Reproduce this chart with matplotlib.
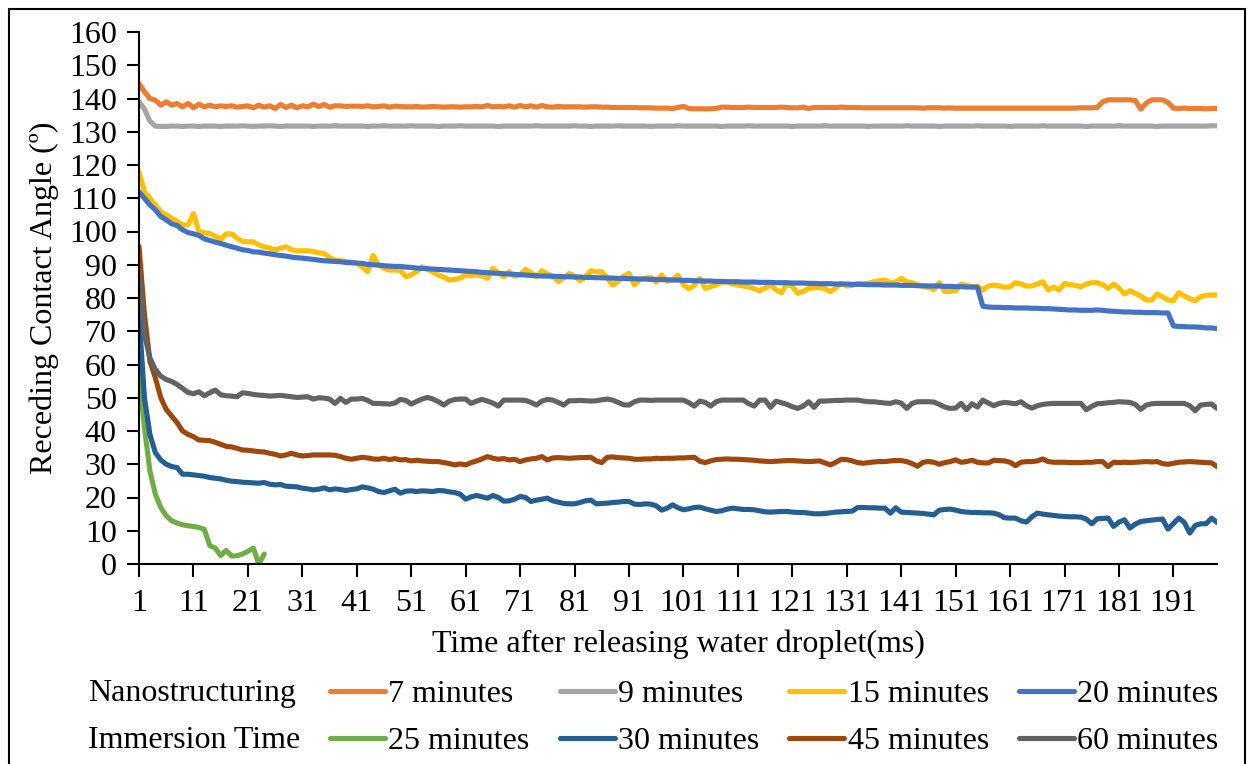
import matplotlib
matplotlib.use('Agg')
import matplotlib.pyplot as plt
import numpy as np

plt.rcParams['font.family'] = ['Liberation Serif', 'DejaVu Serif']

min7 = [
    144.5, 142.0, 140.0, 139.5, 138.0, 139.0, 138.0, 138.5, 137.5, 138.5,
    137.2, 138.3, 137.5, 138.0, 137.5, 137.8, 137.6, 137.8, 137.4, 137.6,
    137.8, 137.2, 138.0, 137.4, 137.8, 137.0, 138.2, 137.3, 138.0, 137.2,
    137.8, 137.5, 138.3, 137.6, 138.2, 137.4, 137.8, 137.8, 137.6, 137.7,
    137.7, 137.6, 137.8, 137.5, 137.6, 137.8, 137.4, 137.7, 137.6, 137.5,
    137.5, 137.6, 137.4, 137.5, 137.6, 137.5, 137.4, 137.5, 137.5, 137.4,
    137.5, 137.5, 137.6, 137.5, 137.9, 137.5, 137.6, 137.5, 137.8, 137.4,
    137.9, 137.5, 137.8, 137.4, 137.9, 137.5, 137.4, 137.6, 137.5, 137.5,
    137.5, 137.5, 137.4, 137.5, 137.5, 137.4, 137.4, 137.3, 137.3, 137.3,
    137.3, 137.3, 137.2, 137.2, 137.2, 137.1, 137.1, 137.1, 137.0, 137.3,
    137.6, 137.0, 136.9, 136.9, 136.9, 136.9, 137.0, 137.4, 137.4, 137.3,
    137.3, 137.3, 137.4, 137.3, 137.3, 137.3, 137.3, 137.3, 137.4, 137.3,
    137.2, 137.2, 137.4, 137.0, 137.3, 137.3, 137.3, 137.3, 137.3, 137.4,
    137.3, 137.3, 137.3, 137.2, 137.2, 137.2, 137.2, 137.2, 137.2, 137.2,
    137.2, 137.2, 137.2, 137.2, 137.1, 137.2, 137.2, 137.2, 137.1, 137.2,
    137.1, 137.1, 137.1, 137.1, 137.1, 137.1, 137.1, 137.1, 137.1, 137.1,
    137.1, 137.1, 137.1, 137.1, 137.1, 137.1, 137.1, 137.1, 137.1, 137.1,
    137.1, 137.1, 137.1, 137.2, 137.2, 137.2, 137.3, 139.0, 139.6, 139.6,
    139.6, 139.6, 139.6, 139.4, 136.8, 138.6, 139.6, 139.6, 139.6, 138.8,
    137.1, 137.0, 137.1, 137.0, 137.0, 137.0, 136.9, 137.0, 137.0]

min9 = [
    139.0, 136.8, 133.2, 131.7, 131.6, 131.6, 131.7, 131.7, 131.6, 131.7,
    131.7, 131.6, 131.7, 131.7, 131.7, 131.6, 131.7, 131.7, 131.7, 131.8,
    131.7, 131.6, 131.7, 131.7, 131.8, 131.7, 131.6, 131.7, 131.7, 131.7,
    131.7, 131.7, 131.6, 131.7, 131.7, 131.7, 131.8, 131.7, 131.7, 131.7,
    131.7, 131.7, 131.6, 131.7, 131.7, 131.8, 131.7, 131.7, 131.7, 131.7,
    131.8, 131.7, 131.7, 131.7, 131.7, 131.6, 131.7, 131.7, 131.7, 131.8,
    131.7, 131.7, 131.7, 131.7, 131.7, 131.7, 131.6, 131.7, 131.7, 131.7,
    131.7, 131.7, 131.7, 131.8, 131.7, 131.7, 131.7, 131.7, 131.7, 131.7,
    131.8, 131.7, 131.7, 131.6, 131.7, 131.7, 131.7, 131.7, 131.8, 131.7,
    131.7, 131.7, 131.7, 131.7, 131.6, 131.7, 131.7, 131.7, 131.7, 131.8,
    131.7, 131.7, 131.7, 131.7, 131.7, 131.7, 131.7, 131.6, 131.7, 131.7,
    131.7, 131.7, 131.8, 131.7, 131.7, 131.7, 131.7, 131.7, 131.7, 131.7,
    131.6, 131.7, 131.7, 131.7, 131.7, 131.7, 131.8, 131.7, 131.7, 131.7,
    131.7, 131.7, 131.7, 131.7, 131.6, 131.7, 131.7, 131.7, 131.7, 131.7,
    131.7, 131.8, 131.7, 131.7, 131.7, 131.7, 131.7, 131.6, 131.7, 131.7,
    131.7, 131.7, 131.7, 131.7, 131.8, 131.7, 131.7, 131.7, 131.7, 131.7,
    131.6, 131.7, 131.7, 131.7, 131.7, 131.7, 131.8, 131.7, 131.7, 131.7,
    131.7, 131.7, 131.7, 131.7, 131.6, 131.7, 131.7, 131.7, 131.7, 131.7,
    131.8, 131.7, 131.7, 131.7, 131.7, 131.7, 131.7, 131.6, 131.7, 131.7,
    131.7, 131.7, 131.7, 131.7, 131.7, 131.7, 131.7, 131.8, 131.8]

min15 = [
    117.9, 112.0, 110.0, 108.0, 106.0, 105.0, 104.0, 103.0, 102.0, 101.9,
    105.4, 100.0, 99.6, 99.4, 98.6, 97.6, 99.3, 99.3, 98.0, 97.0,
    96.9, 96.9, 96.0, 95.4, 95.0, 94.5, 95.0, 95.4, 94.5, 94.2,
    94.2, 94.2, 94.0, 93.6, 93.4, 92.2, 91.4, 91.2, 91.0, 90.8,
    90.5, 89.4, 87.9, 92.8, 89.9, 89.0, 88.4, 88.4, 88.4, 86.4,
    87.0, 87.9, 89.4, 88.6, 87.8, 86.9, 86.3, 85.4, 85.6, 86.0,
    86.9, 86.7, 86.9, 86.7, 85.9, 88.9, 87.6, 86.4, 87.9, 86.5,
    87.0, 88.6, 87.6, 86.4, 88.2, 87.2, 86.6, 84.9, 86.0, 87.4,
    86.6, 85.2, 86.2, 88.2, 87.9, 87.9, 86.0, 83.9, 85.0, 86.6,
    87.4, 83.9, 85.6, 86.0, 86.2, 84.8, 86.9, 85.0, 85.5, 86.9,
    84.0, 82.8, 83.8, 85.9, 82.9, 83.4, 84.0, 84.7, 84.9, 84.2,
    84.0, 83.6, 83.4, 82.8, 82.2, 83.0, 83.9, 82.5, 81.6, 84.4,
    83.5, 81.4, 82.0, 82.9, 83.0, 83.2, 82.8, 81.9, 83.0, 84.4,
    83.6, 83.8, 84.4, 84.2, 84.5, 84.9, 85.2, 85.4, 84.6, 84.8,
    85.9, 84.9, 84.6, 84.0, 83.4, 83.2, 82.6, 84.6, 81.9, 82.0,
    82.2, 84.2, 83.8, 83.4, 83.6, 82.4, 83.6, 83.9, 83.6, 83.2,
    83.4, 84.6, 84.2, 83.6, 83.6, 84.2, 84.9, 82.4, 83.3, 82.4,
    84.4, 84.0, 83.8, 83.4, 84.2, 84.6, 84.6, 84.0, 82.9, 84.2,
    83.0, 81.2, 82.2, 81.4, 80.6, 79.4, 79.4, 81.2, 80.4, 79.4,
    79.2, 81.6, 80.6, 79.8, 79.2, 80.4, 80.8, 80.9, 80.9]

min20 = [
    111.9, 110.0, 108.0, 106.5, 104.5, 103.5, 102.3, 101.8, 100.5, 99.7,
    99.3, 98.8, 97.8, 97.3, 96.8, 96.4, 95.9, 95.4, 95.0, 94.5,
    94.3, 93.9, 93.8, 93.5, 93.3, 93.0, 92.8, 92.6, 92.3, 92.1,
    92.0, 91.8, 91.6, 91.4, 91.2, 91.1, 91.0, 90.9, 90.7, 90.6,
    90.5, 90.4, 90.1, 90.0, 89.9, 89.7, 89.6, 89.5, 89.5, 89.3,
    89.2, 89.0, 88.9, 88.8, 88.7, 88.6, 88.5, 88.4, 88.3, 88.2,
    88.1, 88.0, 87.9, 87.7, 87.6, 87.5, 87.4, 87.3, 87.2, 87.1,
    87.0, 86.9, 86.8, 86.7, 86.6, 86.6, 86.5, 86.5, 86.4, 86.4,
    86.3, 86.3, 86.2, 86.2, 86.1, 86.1, 86.0, 86.0, 85.9, 85.9,
    85.8, 85.8, 85.7, 85.7, 85.6, 85.6, 85.5, 85.5, 85.4, 85.4,
    85.3, 85.3, 85.2, 85.2, 85.1, 85.1, 85.0, 85.0, 84.9, 84.9,
    84.9, 84.8, 84.8, 84.8, 84.7, 84.7, 84.7, 84.6, 84.6, 84.6,
    84.5, 84.5, 84.5, 84.4, 84.4, 84.3, 84.3, 84.3, 84.2, 84.2,
    84.2, 84.1, 84.1, 84.1, 84.0, 84.0, 84.0, 83.9, 83.9, 83.9,
    83.8, 83.8, 83.8, 83.7, 83.7, 83.6, 83.6, 83.6, 83.5, 83.5,
    83.4, 83.4, 83.3, 83.3, 83.2, 77.5, 77.3, 77.2, 77.2, 77.1,
    77.1, 77.0, 77.0, 77.0, 76.9, 76.9, 76.8, 76.8, 76.7, 76.6,
    76.5, 76.4, 76.4, 76.3, 76.3, 76.3, 76.4, 76.3, 76.1, 76.0,
    75.9, 75.8, 75.8, 75.7, 75.7, 75.6, 75.6, 75.6, 75.5, 75.5,
    71.6, 71.4, 71.4, 71.3, 71.3, 71.2, 71.0, 71.0, 70.8]

min25 = [
    57.5, 41.0, 28.0, 21.0, 17.0, 14.5, 13.0, 12.3, 11.8, 11.5,
    11.3, 11.0, 10.4, 5.5, 4.8, 2.5, 4.1, 2.4, 2.5, 3.0,
    3.8, 4.8, 0.0, 3.0]

min30 = [
    74.9, 50.0, 39.0, 33.5, 31.3, 30.0, 29.3, 29.0, 27.0, 27.0,
    26.8, 26.6, 26.4, 26.0, 25.8, 25.6, 25.2, 24.9, 24.8, 24.6,
    24.5, 24.4, 24.3, 24.5, 24.0, 23.8, 23.9, 23.4, 23.3, 23.2,
    22.8, 22.6, 22.3, 22.5, 22.9, 22.3, 22.6, 22.4, 22.1, 22.4,
    22.6, 23.2, 22.9, 22.5, 21.8, 21.5, 22.0, 22.5, 21.3, 21.9,
    22.0, 21.8, 22.0, 21.9, 21.8, 22.1, 22.0, 21.7, 21.5, 21.0,
    19.5, 20.2, 20.6, 20.2, 19.8, 20.6, 20.0, 18.9, 19.0, 19.5,
    20.3, 20.0, 18.8, 19.2, 19.5, 19.8, 19.0, 18.6, 18.2, 18.1,
    18.1, 18.5, 19.0, 19.2, 18.1, 18.2, 18.3, 18.5, 18.6, 18.8,
    18.8, 18.0, 17.9, 18.1, 18.0, 17.5, 16.2, 16.8, 17.8, 16.9,
    16.3, 16.6, 17.0, 17.1, 16.6, 16.2, 15.8, 16.0, 16.5, 16.8,
    16.6, 16.4, 16.4, 16.3, 16.0, 15.7, 15.6, 15.7, 15.8, 15.8,
    15.6, 15.5, 15.5, 15.3, 15.1, 15.1, 15.2, 15.4, 15.6, 15.7,
    15.8, 15.9, 17.0, 17.0, 16.9, 16.9, 16.8, 16.8, 15.3, 16.9,
    15.6, 15.5, 15.4, 15.3, 15.2, 15.0, 14.8, 16.2, 16.4, 16.5,
    16.2, 15.8, 15.6, 15.5, 15.5, 15.4, 15.4, 15.3, 14.8, 13.9,
    13.8, 13.8, 13.0, 12.6, 14.2, 15.3, 15.0, 14.8, 14.6, 14.4,
    14.3, 14.2, 14.2, 14.1, 13.5, 12.1, 13.6, 13.7, 13.8, 11.3,
    12.6, 13.3, 10.8, 12.0, 12.8, 13.0, 13.2, 13.4, 13.5, 10.5,
    12.2, 13.8, 12.5, 9.3, 11.6, 12.1, 12.1, 13.8, 12.5]

min45 = [
    95.5, 75.0, 61.0, 56.0, 50.0, 46.5, 44.5, 42.5, 40.0, 39.0,
    38.3, 37.3, 37.2, 37.1, 36.6, 36.0, 35.4, 35.2, 34.8, 34.3,
    34.2, 34.0, 33.8, 33.7, 33.3, 33.0, 32.5, 32.8, 33.3, 32.8,
    32.5, 32.6, 32.8, 32.8, 32.8, 32.8, 32.7, 32.3, 31.8, 31.5,
    31.8, 32.1, 31.9, 31.6, 31.5, 31.8, 31.4, 31.7, 31.3, 31.4,
    31.0, 31.2, 31.0, 30.9, 30.8, 30.8, 30.5, 30.2, 29.8, 30.1,
    29.8, 30.5, 31.0, 31.6, 32.3, 31.8, 31.5, 31.7, 31.3, 31.5,
    30.8, 31.3, 31.6, 31.8, 32.3, 31.3, 31.9, 32.0, 31.9, 31.8,
    31.9, 32.0, 32.0, 32.1, 31.0, 30.5, 32.1, 32.2, 32.0, 31.9,
    31.8, 31.5, 31.5, 31.6, 31.6, 31.8, 31.7, 31.8, 31.8, 31.9,
    31.9, 32.0, 32.1, 30.9, 30.5, 31.0, 31.4, 31.5, 31.6, 31.5,
    31.5, 31.4, 31.3, 31.2, 31.0, 30.9, 30.8, 30.9, 31.0, 31.1,
    31.1, 31.0, 30.9, 30.8, 30.9, 31.0, 30.4, 29.8, 30.6, 31.5,
    31.4, 31.0, 30.5, 30.3, 30.5, 30.7, 30.8, 30.8, 31.0, 31.1,
    31.1, 30.8, 30.2, 29.4, 30.6, 30.8, 30.6, 30.0, 30.5, 30.8,
    31.3, 30.6, 30.8, 31.2, 30.6, 30.4, 30.4, 31.2, 31.1, 31.0,
    30.6, 29.6, 30.6, 30.8, 30.8, 31.0, 31.6, 30.8, 30.6, 30.6,
    30.6, 30.5, 30.5, 30.5, 30.6, 30.6, 30.8, 30.8, 29.3, 30.6,
    30.5, 30.6, 30.5, 30.6, 30.7, 30.8, 30.7, 30.8, 30.2, 30.0,
    30.3, 30.6, 30.7, 30.8, 30.7, 30.6, 30.5, 30.4, 29.3]

min60 = [
    88.4, 69.0, 62.0, 58.5, 56.5, 55.5, 54.9, 54.0, 52.8, 51.6,
    51.2, 51.8, 50.6, 51.5, 52.3, 50.9, 50.6, 50.5, 50.3, 51.5,
    51.3, 51.0, 50.8, 50.7, 50.5, 50.6, 50.7, 50.5, 50.3, 50.1,
    50.2, 50.3, 49.6, 50.0, 49.9, 49.6, 48.3, 49.8, 48.6, 49.6,
    49.6, 49.8, 49.2, 48.3, 48.3, 48.2, 48.1, 48.4, 49.5, 49.2,
    48.1, 48.9, 49.6, 50.1, 49.6, 48.8, 47.8, 49.0, 49.5, 49.6,
    49.6, 48.3, 49.0, 49.5, 49.0, 48.4, 47.5, 49.3, 49.3, 49.3,
    49.3, 49.2, 48.6, 47.8, 49.0, 49.5, 49.3, 48.6, 47.8, 49.1,
    49.1, 49.2, 49.1, 49.0, 49.1, 49.4, 49.6, 49.3, 48.6, 47.9,
    47.8, 48.8, 49.3, 49.3, 49.2, 49.3, 49.3, 49.3, 49.3, 49.3,
    49.3, 48.5, 47.5, 49.0, 48.6, 47.5, 48.8, 49.3, 49.3, 49.3,
    49.3, 49.3, 48.2, 47.5, 49.3, 49.3, 47.1, 49.0, 48.5, 48.0,
    47.3, 46.8, 47.5, 48.8, 47.1, 49.0, 49.0, 49.1, 49.2, 49.2,
    49.3, 49.3, 49.3, 49.0, 48.8, 48.8, 48.6, 48.4, 48.3, 48.8,
    48.4, 46.8, 48.3, 48.8, 48.8, 48.8, 48.7, 48.0, 47.2, 46.8,
    46.9, 48.3, 46.4, 48.2, 47.2, 49.3, 48.4, 47.6, 48.3, 48.6,
    48.4, 48.2, 48.8, 47.6, 46.9, 47.6, 48.0, 48.2, 48.3, 48.3,
    48.3, 48.3, 48.3, 48.3, 46.4, 47.4, 48.2, 48.3, 48.5, 48.6,
    48.8, 48.7, 48.6, 48.0, 46.5, 47.8, 48.2, 48.3, 48.3, 48.3,
    48.3, 48.3, 48.3, 47.6, 46.1, 47.8, 48.0, 48.1, 46.8]

series = [min7, min9, min15, min20, min25, min30, min45, min60]
labels = ['7 minutes', '9 minutes', '15 minutes', '20 minutes',
          '25 minutes', '30 minutes', '45 minutes', '60 minutes']
colors = ['#ED7D31', '#A5A5A5', '#FFC000', '#4472C4',
          '#70AD47', '#255E91', '#9E480E', '#636363']

FS = 23

fig = plt.figure(figsize=(12.54, 7.64), dpi=100)
ax = fig.add_axes([139/1254, 1 - 564/764, (1217 - 139)/1254, (564 - 32)/764])

handles = {}
for vals, lab, col in zip(series, labels, colors):
    t = np.arange(1, len(vals) + 1)
    ln, = ax.plot(t, vals, color=col, lw=3.7, solid_capstyle='round',
                  solid_joinstyle='round', label=lab)
    handles[lab] = ln

ax.set_xlim(1, 199)
ax.set_ylim(0, 160)
ax.set_xticks(np.arange(1, 192, 10))
ax.set_yticks(np.arange(0, 161, 10))
for s in ['top', 'right']:
    ax.spines[s].set_visible(False)
for s in ['left', 'bottom']:
    ax.spines[s].set_linewidth(1.5)
ax.tick_params(axis='both', direction='out', length=9, width=1.5,
               labelsize=FS)
ax.tick_params(axis='y', pad=7)
ax.tick_params(axis='x', pad=9)
ax.set_xlabel('Time after releasing water droplet(ms)', fontsize=FS,
              labelpad=8)
ax.set_ylabel('Receding Contact Angle (\u00ba)', fontsize=FS, labelpad=7)

# legend: 2 rows x 4 columns, entries given column by column
order = ['7 minutes', '25 minutes', '9 minutes', '30 minutes',
         '15 minutes', '45 minutes', '20 minutes', '60 minutes']
fig.legend([handles[k] for k in order], order, ncol=4, frameon=False,
           fontsize=FS, loc='center left',
           bbox_to_anchor=(330/1254, 1 - 718/764),
           handlelength=1.72, handletextpad=0.1, columnspacing=0.95,
           labelspacing=0.55, borderpad=0, borderaxespad=0)
fig.text(88/1254, 1 - 693/764, 'Nanostructuring', fontsize=FS,
         ha='left', va='center')
fig.text(88/1254, 1 - 740/764, 'Immersion Time', fontsize=FS,
         ha='left', va='center')

# chart border
fig.patches.append(plt.Rectangle((9/1254, -0.01), (1245 - 9)/1254,
                                 1.01 - 9/764, transform=fig.transFigure,
                                 fill=False, edgecolor='black', lw=1.5))

fig.savefig('out.png', dpi=100)
